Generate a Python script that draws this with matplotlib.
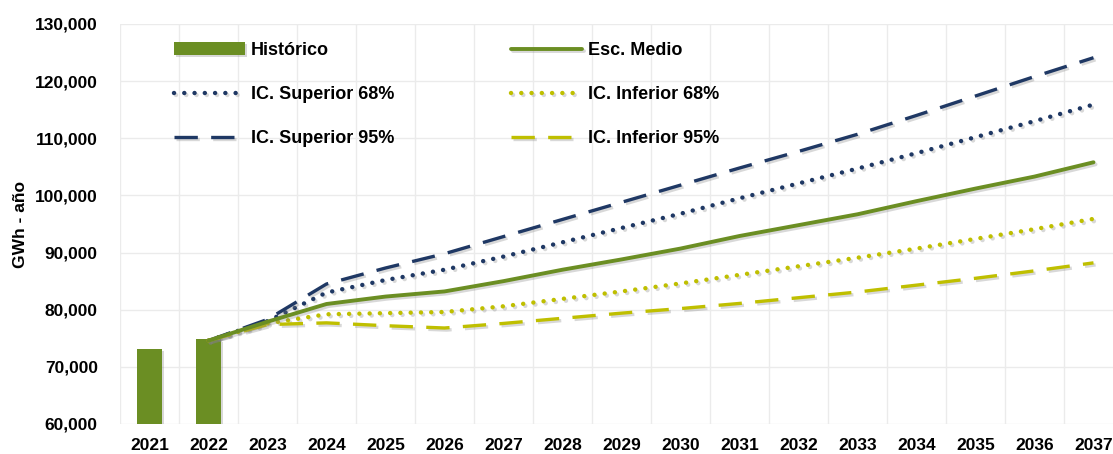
import numpy as np
import matplotlib
matplotlib.use('Agg')
import matplotlib.pyplot as plt
import matplotlib.patheffects as pe
from matplotlib.ticker import FuncFormatter

plt.rcParams['font.family'] = ['Liberation Sans', 'DejaVu Sans']
plt.rcParams['font.weight'] = 'bold'

years = [str(y) for y in range(2021, 2038)]

# historic bars (2021, 2022)
hist_years = ['2021', '2022']
hist_vals = [73200, 74800]

# projections from 2022 onwards
proj_years = [str(y) for y in range(2022, 2038)]
esc_medio = [74600, 77900, 81000, 82300, 83200, 85000, 87000, 88800, 90700,
             92900, 94800, 96700, 99000, 101200, 103300, 105800]
sup_68 = [74600, 78000, 83000, 85200, 87000, 89300, 91800, 94300, 96800,
          99500, 102100, 104700, 107400, 110200, 113000, 115900]
sup_95 = [74600, 78300, 84500, 87300, 89800, 92800, 95800, 98800, 101800,
          104800, 107700, 110700, 114000, 117400, 120800, 124100]
inf_68 = [74600, 77600, 79200, 79400, 79600, 80600, 81900, 83200, 84600,
          86100, 87600, 89100, 90700, 92400, 94100, 95900]
inf_95 = [74600, 77400, 77700, 77200, 76800, 77600, 78500, 79400, 80200,
          81100, 82100, 83100, 84300, 85500, 86800, 88200]

green = '#6B8E23'
navy = '#1F3864'
yellow = '#BFBF00'

fig = plt.figure(figsize=(11.13, 4.54), dpi=100)
ax = fig.add_axes([120/1113, 30/454, 1003/1113, 400/454])

xpos = {y: i for i, y in enumerate(years)}
hx = [xpos[y] for y in hist_years]
px = [xpos[y] for y in proj_years]

shadow = [pe.SimpleLineShadow(offset=(1.5, -1.5), shadow_color='gray', alpha=0.3), pe.Normal()]

bars = ax.bar(hx, hist_vals, width=0.43, color=green, label='Histórico', zorder=3)
for b in bars:
    b.set_path_effects([pe.SimplePatchShadow(offset=(1.5, -1.5), shadow_rgbFace='gray', alpha=0.3), pe.Normal()])

dot = (0, (0.01, 2.3))
dash = (0, (7, 4))
l_sup68, = ax.plot(px, sup_68, color=navy, lw=3.2, linestyle=dot,
                   dash_capstyle='round', label='IC. Superior 68%', zorder=4)
l_sup95, = ax.plot(px, sup_95, color=navy, lw=2.4, linestyle=dash,
                   label='IC. Superior 95%', zorder=4)
l_medio, = ax.plot(px, esc_medio, color=green, lw=2.8, solid_capstyle='round',
                   label='Esc. Medio', zorder=5)
l_inf68, = ax.plot(px, inf_68, color=yellow, lw=3.2, linestyle=dot,
                   dash_capstyle='round', label='IC. Inferior 68%', zorder=4)
l_inf95, = ax.plot(px, inf_95, color=yellow, lw=2.4, linestyle=dash,
                   label='IC. Inferior 95%', zorder=4)
for l in [l_sup68, l_sup95, l_medio, l_inf68, l_inf95]:
    l.set_path_effects(shadow)

ax.set_ylim(60000, 130000)
ax.set_xlim(-0.5, len(years) - 0.5)
ax.set_yticks(np.arange(60000, 130001, 10000))
ax.yaxis.set_major_formatter(FuncFormatter(lambda v, p: f'{int(v):,}'))
ax.set_xticks(range(len(years)))
ax.set_xticklabels(years)
ax.set_xticks(np.arange(-0.5, len(years), 1), minor=True)
ax.tick_params(axis='both', which='both', length=0, labelsize=12.5)
ax.tick_params(axis='x', pad=10)
ax.tick_params(axis='y', pad=16)
ax.grid(axis='y', which='major', color='#EBEBEB', lw=1, zorder=0)
ax.grid(axis='x', which='minor', color='#EBEBEB', lw=1, zorder=0)
for s in ax.spines.values():
    s.set_visible(False)
ax.set_ylabel('GWh - año', fontsize=12.5, fontweight='bold')
ax.yaxis.set_label_coords(-92/1003, 0.5)

handles = [bars, l_sup68, l_sup95, l_medio, l_inf68, l_inf95]
labels = [h.get_label() for h in handles]
ax.legend(handles, labels, ncol=2, loc='upper left', bbox_to_anchor=(0.036, 1.0),
          frameon=False, fontsize=13, handlelength=3.9, handletextpad=0.33,
          columnspacing=6.5, labelspacing=1.5, borderaxespad=0.6)

fig.savefig('out.png', dpi=100)
